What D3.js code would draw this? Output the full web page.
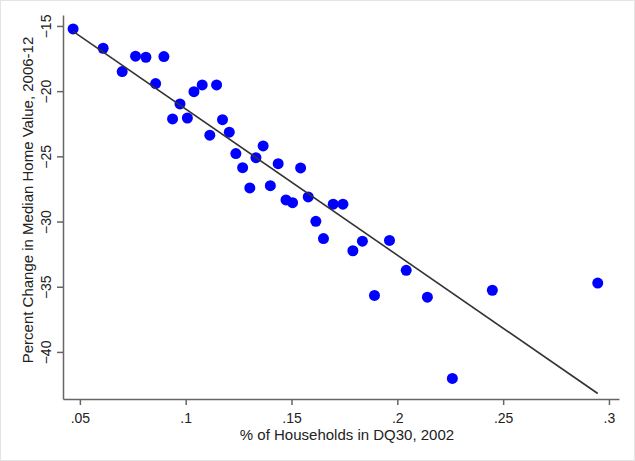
<!DOCTYPE html>
<html>
<head>
<meta charset="utf-8">
<script src="https://cdn.jsdelivr.net/npm/d3@7"></script>
<style>
  body { margin: 0; background: #fff; }
  text { font-family: "Liberation Sans", Arial, sans-serif; fill: #222; }
</style>
</head>
<body>
<div id="chart"></div>
<script>
// share of households 30+ days delinquent, 2002
const dq30 = [
  0.0468, 0.0610, 0.0700, 0.0763, 0.0812, 0.0897, 0.0858, 0.0973, 0.1039, 0.1078,
  0.0938, 0.1008, 0.1146, 0.1174, 0.1114, 0.1206, 0.1366, 0.1237, 0.1332, 0.1437,
  0.1269, 0.1543, 0.1303, 0.1400, 0.1474, 0.1505, 0.1579, 0.1697, 0.1743, 0.1615,
  0.1651, 0.1835, 0.1790, 0.1963, 0.2042, 0.1892, 0.2142, 0.2449, 0.2947, 0.2260
];
// percent change in median home value, 2006-12
const homeChange = [
  -15.23, -16.71, -18.50, -17.32, -17.40, -17.35, -19.42, -20.98, -20.04, -19.52,
  -22.13, -22.06, -19.52, -22.19, -23.38, -23.15, -24.20, -24.79, -25.10, -25.56,
  -25.87, -25.89, -27.42, -27.25, -28.34, -28.55, -28.11, -28.67, -28.67, -29.98,
  -31.31, -31.51, -32.24, -31.45, -33.74, -35.67, -35.80, -35.27, -34.72, -42.03
];
const xTicks = [0.05, 0.1, 0.15, 0.2, 0.25, 0.3];
const xTickLabels = [".05", ".1", ".15", ".2", ".25", ".3"];
const yTicks = [-15, -20, -25, -30, -35, -40];
const xTitle = "% of Households in DQ30, 2002";
const yTitle = "Percent Change in Median Home Value, 2006-12";

const w = 635, h = 461;
const mg = {left: 63, right: 16, top: 15, bottom: 62};

const svg = d3.select("#chart").append("svg")
  .attr("width", w)
  .attr("height", h);

svg.append("rect")
  .attr("x", 0.5).attr("y", 0.5)
  .attr("width", w - 1).attr("height", h - 1)
  .style("fill", "#fff")
  .style("stroke", "#e4e4e4");

const x = d3.scaleLinear()
  .domain([0.04203, 0.30474])
  .range([mg.left, w - mg.right]);

const y = d3.scaleLinear()
  .domain([-43.61, -14.16])
  .range([h - mg.bottom, mg.top]);

// axes
const xAxis = svg.append("g")
  .attr("transform", `translate(0,${h - mg.bottom})`)
  .call(d3.axisBottom(x).tickValues(xTicks)
    .tickFormat((d, i) => xTickLabels[i]).tickSize(6).tickSizeOuter(0));

const yAxis = svg.append("g")
  .attr("transform", `translate(${mg.left},0)`)
  .call(d3.axisLeft(y).tickValues(yTicks).tickSize(6).tickSizeOuter(0));

[xAxis, yAxis].forEach(ax => {
  ax.selectAll(".domain, .tick line").style("stroke", "#666").style("stroke-width", 1.5);
  ax.selectAll(".tick text").style("font-size", "14px").style("fill", "#222")
    .style("font-family", '"Liberation Sans", Arial, sans-serif');
});

xAxis.selectAll(".tick text").attr("y", 14);

yAxis.selectAll(".tick text")
  .attr("x", 0).attr("dy", 0)
  .attr("text-anchor", "middle")
  .attr("transform", "translate(-12,0) rotate(-90)");

// titles
svg.append("text")
  .attr("x", (mg.left + w - mg.right) / 2 + 6)
  .attr("y", h - 21)
  .attr("text-anchor", "middle")
  .style("font-size", "15px")
  .text(xTitle);

svg.append("text")
  .attr("transform", `translate(33,${(mg.top + h - mg.bottom) / 2 - 7}) rotate(-90)`)
  .attr("text-anchor", "middle")
  .style("font-size", "15px")
  .text(yTitle);

// points
svg.selectAll(".pt")
  .data(dq30)
  .enter().append("circle")
  .attr("class", "pt")
  .attr("cx", d => x(d))
  .attr("cy", (d, i) => y(homeChange[i]))
  .attr("r", 5.5)
  .style("fill", "#0000ff");

// linear fit over the data range
const mx = d3.mean(dq30), my = d3.mean(homeChange);
const slope = d3.sum(dq30, (d, i) => (d - mx) * (homeChange[i] - my)) /
  d3.sum(dq30, d => (d - mx) * (d - mx));
const icpt = my - slope * mx;
const xr = d3.extent(dq30);

svg.append("line")
  .attr("x1", x(xr[0])).attr("y1", y(icpt + slope * xr[0]))
  .attr("x2", x(xr[1])).attr("y2", y(icpt + slope * xr[1]))
  .style("stroke", "#333")
  .style("stroke-width", 1.6);
</script>
</body>
</html>
